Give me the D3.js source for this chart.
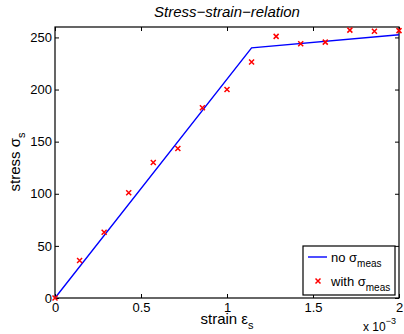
<html>
<head>
  <script src="https://d3js.org/d3.v7.min.js"></script>
  <style>
    body { margin: 0; background: #fff; }
    text { font-family: "Liberation Sans", Arial, sans-serif; }
  </style>
</head>
<body>
  <svg id="chart" width="404" height="334"></svg>
  <script>
    // measured strain (x 1e-3) and stress values
    const strainMeas = [0, 0.1429, 0.2857, 0.4286, 0.5714, 0.7143, 0.8571, 1.0, 1.1429, 1.2857, 1.4286, 1.5714, 1.7143, 1.8571, 2.0];
    const stressMeas = [0, 36, 63, 101, 130, 143.5, 182.5, 200, 226.5, 251, 244, 245.5, 257, 256, 256.5];
    // bilinear model without measurement noise
    const strainModel = [0, 1.1429, 2.0];
    const stressModel = [0, 240, 252.5];
    const xTicks = [0, 0.5, 1, 1.5, 2];
    const yTicks = [0, 50, 100, 150, 200, 250];

    const svg = d3.select("svg#chart");
    const plotL = 55, plotR = 399, plotT = 27, plotB = 298;

    const x = d3.scaleLinear().domain([0, 2]).range([plotL, plotR]);
    const y = d3.scaleLinear().domain([0, 260]).range([plotB, plotT]);

    // ticks (inward, both sides)
    svg.append("g").attr("transform", "translate(0," + plotB + ")")
      .call(d3.axisBottom(x).tickValues(xTicks).tickSizeInner(-4).tickSizeOuter(0).tickPadding(5)
        .tickFormat(d => d))
      .call(g => g.select(".domain").remove())
      .call(g => g.selectAll("text").attr("font-size", 13).attr("fill", "#000"));
    svg.append("g").attr("transform", "translate(0," + plotT + ")")
      .call(d3.axisTop(x).tickValues(xTicks).tickSizeInner(-4).tickSizeOuter(0).tickFormat(""))
      .call(g => g.select(".domain").remove());
    svg.append("g").attr("transform", "translate(" + plotL + ",0)")
      .call(d3.axisLeft(y).tickValues(yTicks).tickSizeInner(-4).tickSizeOuter(0).tickPadding(3))
      .call(g => g.select(".domain").remove())
      .call(g => g.selectAll("text").attr("font-size", 13).attr("fill", "#000"));
    svg.append("g").attr("transform", "translate(" + plotR + ",0)")
      .call(d3.axisRight(y).tickValues(yTicks).tickSizeInner(-4).tickSizeOuter(0).tickFormat(""))
      .call(g => g.select(".domain").remove());

    svg.append("rect")
      .attr("x", plotL).attr("y", plotT)
      .attr("width", plotR - plotL).attr("height", plotB - plotT)
      .attr("fill", "none").attr("stroke", "#000").attr("stroke-width", 1.2);

    const line = d3.line().x(d => x(d[0])).y(d => y(d[1]));
    svg.append("path")
      .datum(strainModel.map((s, i) => [s, stressModel[i]]))
      .attr("d", line)
      .attr("fill", "none").attr("stroke", "#0000ff").attr("stroke-width", 1.4);

    function cross(sel, cx, cy) {
      const r = 2.5;
      sel.append("path")
        .attr("d", `M${cx - r},${cy - r}L${cx + r},${cy + r}M${cx - r},${cy + r}L${cx + r},${cy - r}`)
        .attr("stroke", "#ff0000").attr("stroke-width", 1.5).attr("fill", "none");
    }
    const marks = svg.append("g");
    strainMeas.forEach((s, i) => cross(marks, x(s), y(stressMeas[i])));

    // title and labels
    svg.append("text").attr("x", 227).attr("y", 17).attr("text-anchor", "middle")
      .attr("font-size", 15).attr("font-style", "italic").text("Stress\u2212strain\u2212relation");

    const xl = svg.append("text").attr("x", 227).attr("y", 324).attr("text-anchor", "middle").attr("font-size", 15);
    xl.append("tspan").text("strain \u03b5");
    xl.append("tspan").attr("font-size", 11).attr("dy", 5).text("s");

    const yl = svg.append("text").attr("transform", "translate(20,162) rotate(-90)")
      .attr("text-anchor", "middle").attr("font-size", 15);
    yl.append("tspan").text("stress \u03c3");
    yl.append("tspan").attr("font-size", 11).attr("dy", 5).text("s");

    const ex = svg.append("text").attr("x", 363).attr("y", 331).attr("font-size", 12);
    ex.append("tspan").text("x 10");
    ex.append("tspan").attr("font-size", 9).attr("dy", -7).text("\u22123");

    // legend
    const lg = svg.append("g");
    lg.append("rect").attr("x", 303).attr("y", 246).attr("width", 92).attr("height", 49)
      .attr("fill", "#fff").attr("stroke", "#000").attr("stroke-width", 1.2);
    lg.append("line").attr("x1", 308).attr("x2", 327).attr("y1", 257).attr("y2", 257)
      .attr("stroke", "#0000ff").attr("stroke-width", 1.4);
    const t1 = lg.append("text").attr("x", 331).attr("y", 262).attr("font-size", 13);
    t1.append("tspan").text("no \u03c3");
    t1.append("tspan").attr("font-size", 10).attr("dy", 5).text("meas");
    cross(lg, 318, 281);
    const t2 = lg.append("text").attr("x", 331).attr("y", 286).attr("font-size", 13);
    t2.append("tspan").text("with \u03c3");
    t2.append("tspan").attr("font-size", 10).attr("dy", 5).text("meas");
  </script>
</body>
</html>
